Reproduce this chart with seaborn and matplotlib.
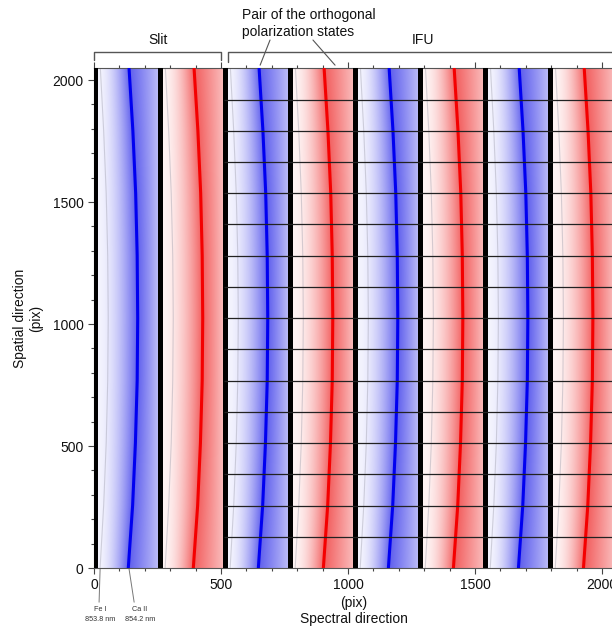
import numpy as np
import pandas as pd
import matplotlib
matplotlib.use("Agg")
import matplotlib.pyplot as plt
import seaborn as sns

# --- detector layout and spectral-line data -------------------------------
strip_width = 256                       # pixels per spectrum strip
strip_ids = [0, 1, 2, 3, 4, 5, 6, 7]
strip_mode = ["Slit", "Slit", "IFU", "IFU", "IFU", "IFU", "IFU", "IFU"]
strip_state = ["blue", "red", "blue", "red", "blue", "red", "blue", "red"]

# spatial sampling of the curved lines (pix)
spatial_rows = [0, 256, 512, 768, 1024, 1280, 1536, 1792, 2048]
# Ca II 854.2 nm line position inside each strip (pix)
ca_offset = [135, 152, 163, 170, 172, 170, 164, 153, 138]
# Fe I 853.8 nm line position inside each strip (pix)
fe_offset = [24, 38, 48, 54, 56, 54, 48, 38, 25]

# IFU slicer boundaries along the spatial direction (pix)
ifu_rows = [128, 256, 384, 512, 640, 768, 896, 1024, 1152, 1280,
            1408, 1536, 1664, 1792, 1920]

x_ticks = [0, 500, 1000, 1500, 2000]
y_ticks = [0, 500, 1000, 1500, 2000]

state_base = {"blue": (0.10, 0.10, 0.90), "red": (0.93, 0.10, 0.10)}
core_color = {"blue": "#0000f0", "red": "#f40000"}

# --- style -----------------------------------------------------------------
sns.set_theme(style="ticks")
plt.rcParams["font.family"] = ["Liberation Sans", "DejaVu Sans"]
plt.rcParams["axes.edgecolor"] = "#555555"

fig = plt.figure(figsize=(6.12, 6.28), dpi=100)
ax = fig.add_axes([0.1536, 0.0955, 0.8500, 0.7957])

# --- shaded spectra image --------------------------------------------------
bar_lo, bar_hi = 6, 17            # dark gap between neighbouring strips
nx, ny = 1024, 128
xc = (np.arange(nx) + 0.5) * (len(strip_ids) * strip_width) / nx
yc = (np.arange(ny) + 0.5) * 2048 / ny
img = np.ones((ny, nx, 3))
for j, y in enumerate(yc):
    c = np.interp(y, spatial_rows, ca_offset)
    for k in strip_ids:
        sel = (xc >= k * strip_width) & (xc < (k + 1) * strip_width)
        d = xc[sel] - k * strip_width
        end = strip_width - bar_lo
        u_left = np.clip((d - bar_hi) / (c - bar_hi), 0, 1)
        u_right = np.clip((d - c) / (end - c), 0, 1)
        t = np.where(d < c, 0.05 + 0.65 * u_left ** 1.8, 0.70 - 0.40 * u_right)
        base = np.array(state_base[strip_state[k]])
        img[j, sel, :] = 1 - t[:, None] * (1 - base[None, :])

ax.imshow(img, extent=(0, 2048, 0, 2048), origin="lower", aspect="auto",
          interpolation="bilinear", zorder=0)

# --- spectral lines --------------------------------------------------------
rows = []
for k in strip_ids:
    for y, ca, fe in zip(spatial_rows, ca_offset, fe_offset):
        rows.append({"strip": k, "y": y,
                     "ca": k * strip_width + ca,
                     "fe": k * strip_width + fe})
lines = pd.DataFrame(rows)

sns.lineplot(data=lines, x="fe", y="y", hue="strip",
             palette={k: "#9a9aa8" for k in strip_ids}, sort=False,
             estimator=None, legend=False, lw=0.8, alpha=0.4, ax=ax, zorder=2)
sns.lineplot(data=lines, x="ca", y="y", hue="strip",
             palette={k: core_color[strip_state[k]] for k in strip_ids},
             sort=False, estimator=None, legend=False, lw=2.2, ax=ax, zorder=3)

# dark gaps between strips
for k in strip_ids + [8]:
    ax.axvspan(k * strip_width - bar_lo, k * strip_width + bar_hi,
               color="black", lw=0, zorder=4)

# IFU slice boundaries
ifu_start = strip_mode.index("IFU") * strip_width
ax.hlines(ifu_rows, ifu_start, 2048, colors="#222222", lw=0.9, zorder=5)

# --- axes ------------------------------------------------------------------
ax.set_xlim(0, 2048)
ax.set_ylim(0, 2048)
ax.set_xticks(x_ticks)
ax.set_yticks(y_ticks)
ax.set_xticks(np.arange(0, 2049, 100), minor=True)
ax.set_yticks(np.arange(0, 2049, 100), minor=True)
ax.tick_params(which="both", direction="out", color="#444444", width=0.8,
               labelsize=10, labelcolor="#111111", top=True, right=False)
ax.tick_params(which="major", length=4.5, pad=3)
ax.tick_params(which="minor", length=2.5)
ax.set_xlabel("")
ax.set_ylabel("")
for s in ax.spines.values():
    s.set_linewidth(0.8)

fig.text(354 / 612, 1 - 611 / 628, "(pix)\nSpectral direction",
         ha="center", va="center", ma="center", fontsize=10, color="#111111")
fig.text(28 / 612, 1 - 318 / 628, "Spatial direction\n(pix)", rotation=90,
         ha="center", va="center", ma="center", fontsize=10, color="#111111")

# --- annotations above the detector ---------------------------------------
br = dict(color="#555555", lw=1.0, clip_on=False, zorder=6)
ax.plot([0, 0, 500, 500], [2082, 2116, 2116, 2082], **br)
ax.plot([528, 528, 2200], [2074, 2116, 2116], **br)
ax.text(252, 2164, "Slit", ha="center", va="center", fontsize=10,
        color="#111111", clip_on=False)
ax.text(1295, 2164, "IFU", ha="center", va="center", fontsize=10,
        color="#111111", clip_on=False)
ax.text(583, 2232, "Pair of the orthogonal\npolarization states",
        ha="left", va="center", ma="left", fontsize=10, linespacing=1.3,
        color="#111111", clip_on=False)
ax.plot([693, 654], [2164, 2061], color="#555555", lw=0.8, clip_on=False)
ax.plot([862, 949], [2164, 2061], color="#555555", lw=0.8, clip_on=False)

# line identifications below the first strip
ax.plot([24, 20], [-4, -140], color="#777777", lw=0.7, clip_on=False)
ax.plot([138, 158], [-4, -140], color="#777777", lw=0.7, clip_on=False)
ax.text(24, -190, "Fe I\n853.8 nm", ha="center", va="center", ma="center",
        fontsize=5.2, color="#333333", clip_on=False, linespacing=1.5)
ax.text(181, -190, "Ca II\n854.2 nm", ha="center", va="center", ma="center",
        fontsize=5.2, color="#333333", clip_on=False, linespacing=1.5)

fig.savefig("out.png", dpi=100)
